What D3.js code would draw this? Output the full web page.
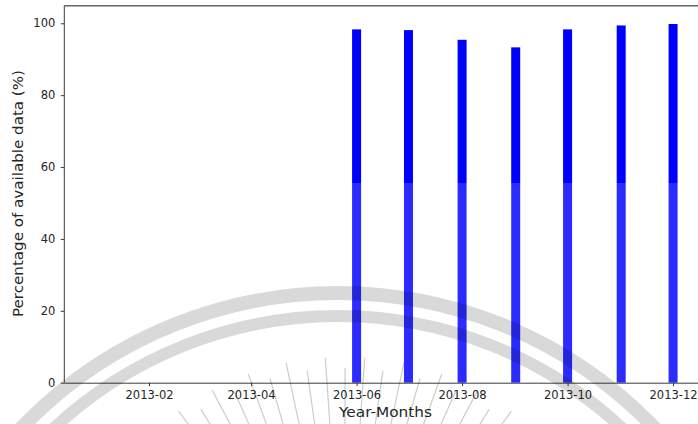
<!DOCTYPE html>
<html>
<head>
<meta charset="utf-8">
<script src="https://cdn.jsdelivr.net/npm/d3@7"></script>
<style>
  html, body { margin: 0; padding: 0; background: #fff; }
  svg { display: block; }
  text { font-family: "DejaVu Sans", sans-serif; fill: #262626; }
</style>
</head>
<body>
<svg id="chart" width="698" height="424"></svg>
<script>
// Monthly data availability, 2013
const months = ["2013-01", "2013-02", "2013-03", "2013-04", "2013-05", "2013-06",
                "2013-07", "2013-08", "2013-09", "2013-10", "2013-11", "2013-12"];
const availability = [0, 0, 0, 0, 0, 98.3, 98.1, 95.4, 93.3, 98.3, 99.4, 99.8];
const xTickLabels = ["2013-02", "2013-04", "2013-06", "2013-08", "2013-10", "2013-12"];
const yTicks = [0, 20, 40, 60, 80, 100];

const parseMonth = d3.utcParse("%Y-%m");
const fmtMonth = d3.utcFormat("%Y-%m");
const DAY = 864e5;

const svg = d3.select("#chart");
const W = 698, H = 424;
const plot = { left: 64.3, top: 5.3, bottom: 382.7 };

const x = d3.scaleUtc()
  .domain([Date.UTC(2012, 11, 14), Date.UTC(2013, 11, 18)])
  .range([plot.left, plot.left + 369 * 1.7295]);
const y = d3.scaleLinear().domain([0, 105]).range([plot.bottom, plot.top]);

const barHalfDays = 2.6;
const bars = months.map((m, i) => ({ date: parseMonth(m), value: availability[i] }));

// bars
svg.append("g").selectAll("rect").data(bars.filter(d => d.value > 0)).join("rect")
  .attr("x", d => x(new Date(+d.date - barHalfDays * DAY)))
  .attr("width", d => x(new Date(+d.date + barHalfDays * DAY)) - x(new Date(+d.date - barHalfDays * DAY)))
  .attr("y", d => y(d.value))
  .attr("height", d => y(0) - y(d.value))
  .attr("fill", "#0000ff");

// pale wash over the lower part of the page
svg.append("rect")
  .attr("x", 0).attr("y", 183).attr("width", W).attr("height", H - 183)
  .attr("fill", "#fff").attr("opacity", 0.17);

// axes frame
const frame = svg.append("g").attr("stroke", "#3a3a3a").attr("stroke-width", 1).attr("fill", "none");
frame.append("line").attr("x1", plot.left).attr("x2", plot.left).attr("y1", plot.top).attr("y2", plot.bottom);
frame.append("line").attr("x1", plot.left).attr("x2", W).attr("y1", plot.top + 0.5).attr("y2", plot.top + 0.5).attr("stroke", "#666").attr("stroke-width", 1.4);

// x axis
const xAxis = d3.axisBottom(x)
  .tickValues(xTickLabels.map(parseMonth))
  .tickFormat(fmtMonth)
  .tickSizeInner(3.5).tickSizeOuter(0).tickPadding(5);
const gx = svg.append("g").attr("transform", `translate(0,${plot.bottom})`).call(xAxis);
gx.select(".domain").attr("d", `M${plot.left},0.5H${W}`).attr("stroke", "#3a3a3a");
gx.selectAll(".tick line").attr("stroke", "#3a3a3a");
gx.selectAll(".tick text").style("font-family", "DejaVu Sans, sans-serif").style("font-size", "11.5px").attr("fill", "#262626");

// y axis
const yAxis = d3.axisLeft(y).tickValues(yTicks).tickSizeInner(3.5).tickSizeOuter(0).tickPadding(5.5);
const gy = svg.append("g").attr("transform", `translate(${plot.left},0)`).call(yAxis);
gy.select(".domain").remove();
gy.selectAll(".tick line").attr("stroke", "#3a3a3a");
gy.selectAll(".tick text").style("font-family", "DejaVu Sans, sans-serif").style("font-size", "11.5px").attr("fill", "#262626");

// axis titles
svg.append("text")
  .attr("x", 385.5).attr("y", 417)
  .attr("text-anchor", "middle")
  .attr("textLength", 93).attr("lengthAdjust", "spacingAndGlyphs")
  .style("font-size", "13.5px")
  .text("Year-Months");
svg.append("text")
  .attr("transform", "translate(22.5,193.5) rotate(-90)")
  .attr("text-anchor", "middle")
  .attr("textLength", 247).attr("lengthAdjust", "spacingAndGlyphs")
  .style("font-size", "13.5px")
  .text("Percentage of available data (%)");

// seal watermark: two concentric rings and a fan of rays
const seal = svg.append("g").attr("fill", "none").attr("stroke", "#000");
seal.append("circle").attr("cx", 338).attr("cy", 732).attr("r", 439)
  .attr("stroke-width", 14).attr("stroke-opacity", 0.15);
seal.append("circle").attr("cx", 338).attr("cy", 732).attr("r", 416)
  .attr("stroke-width", 12).attr("stroke-opacity", 0.15);
const rayCx = 345, rayCy = 640;
const rayAngles = d3.range(-36, 47, 4);
seal.selectAll("line.ray").data(rayAngles).join("line")
  .attr("class", "ray")
  .attr("x1", a => rayCx + (Math.abs(a) % 8 === 0 ? 272 : 283) * Math.sin(a * Math.PI / 180))
  .attr("y1", a => rayCy - (Math.abs(a) % 8 === 0 ? 272 : 283) * Math.cos(a * Math.PI / 180))
  .attr("x2", a => rayCx + 150 * Math.sin(a * Math.PI / 180))
  .attr("y2", a => rayCy - 150 * Math.cos(a * Math.PI / 180))
  .attr("stroke-width", 1.2).attr("stroke-opacity", 0.2);
</script>
</body>
</html>
